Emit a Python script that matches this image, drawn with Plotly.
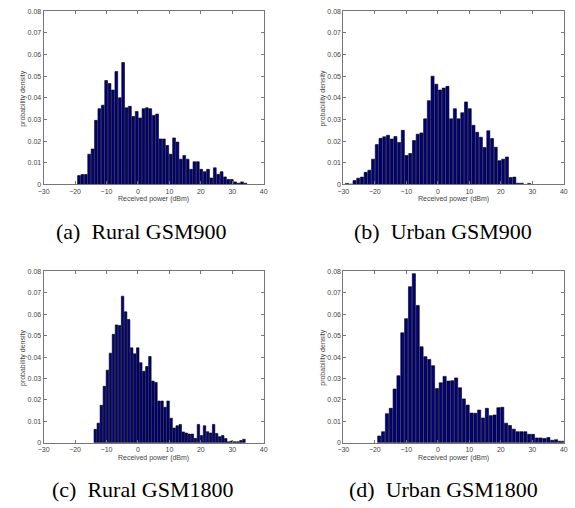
import plotly.graph_objects as go
import numpy as np

# ---- data (probability density per histogram bin) ----
# (a) Rural GSM900
a_start, a_width = -19.3, 1.08
a_vals = [0.0041, 0.0046, 0.0046, 0.0140, 0.0164, 0.0296, 0.0350, 0.0366, 0.0480, 0.0466,
          0.0436, 0.0522, 0.0400, 0.0563, 0.0354, 0.0361, 0.0314, 0.0337, 0.0307, 0.0350,
          0.0354, 0.0350, 0.0319, 0.0325, 0.0210, 0.0210, 0.0180, 0.0140, 0.0215, 0.0196,
          0.0117, 0.0134, 0.0117, 0.0070, 0.0105, 0.0105, 0.0070, 0.0059, 0.0070, 0.0030,
          0.0077, 0.0047, 0.0059, 0.0035, 0.0023, 0.0023, 0.0012, 0.0006, 0.0012, 0.0006]
# (b) Urban GSM900
b_start, b_width = -29.4, 1.18
b_vals = [0.0005, 0.0002, 0.0018, 0.0029, 0.0034, 0.0056, 0.0066, 0.0117, 0.0184, 0.0213,
          0.0220, 0.0227, 0.0210, 0.0221, 0.0194, 0.0250, 0.0134, 0.0143, 0.0203, 0.0232,
          0.0238, 0.0303, 0.0387, 0.0500, 0.0463, 0.0436, 0.0445, 0.0453, 0.0303, 0.0350,
          0.0303, 0.0331, 0.0381, 0.0350, 0.0273, 0.0241, 0.0218, 0.0171, 0.0248, 0.0212,
          0.0172, 0.0110, 0.0117, 0.0127, 0.0032, 0.0034, 0.0006, 0.0006, 0.0000, 0.0005]
# (c) Rural GSM1800
c_start, c_width = -14.06, 0.965
c_vals = [0.0063, 0.0092, 0.0175, 0.0264, 0.0339, 0.0418, 0.0506, 0.0550, 0.0547, 0.0684,
          0.0611, 0.0575, 0.0443, 0.0415, 0.0443, 0.0374, 0.0334, 0.0356, 0.0403, 0.0288,
          0.0282, 0.0195, 0.0195, 0.0166, 0.0195, 0.0115, 0.0069, 0.0080, 0.0086, 0.0051,
          0.0046, 0.0041, 0.0041, 0.0021, 0.0086, 0.0034, 0.0080, 0.0052, 0.0046, 0.0086,
          0.0044, 0.0029, 0.0034, 0.0020, 0.0005, 0.0009, 0.0005, 0.0005, 0.0011, 0.0017]
# (d) Urban GSM1800
d_start, d_width = -19.2, 1.22
d_vals = [0.0032, 0.0052, 0.0136, 0.0161, 0.0251, 0.0313, 0.0513, 0.0579, 0.0728, 0.0789,
          0.0641, 0.0448, 0.0402, 0.0389, 0.0360, 0.0253, 0.0280, 0.0310, 0.0288, 0.0290,
          0.0303, 0.0257, 0.0205, 0.0176, 0.0139, 0.0138, 0.0153, 0.0116, 0.0161, 0.0127,
          0.0130, 0.0164, 0.0166, 0.0092, 0.0081, 0.0064, 0.0052, 0.0052, 0.0052, 0.0040,
          0.0040, 0.0023, 0.0023, 0.0020, 0.0025, 0.0012, 0.0015, 0.0008, 0.0008]

captions = ["(a)  Rural GSM900", "(b)  Urban GSM900", "(c)  Rural GSM1800", "(d)  Urban GSM1800"]
x_ticks = [-30, -20, -10, 0, 10, 20, 30, 40]
y_ticks = [0, 0.01, 0.02, 0.03, 0.04, 0.05, 0.06, 0.07, 0.08]
x_title = "Received power (dBm)"
y_title = "probability density"

W, H = 575, 508
panels = [
    (a_start, a_width, a_vals, (38.3, 262.3), (7.3, 183.0)),
    (b_start, b_width, b_vals, (343.3, 567.7), (7.3, 183.0)),
    (c_start, c_width, c_vals, (38.3, 262.3), (271.0, 445.0)),
    (d_start, d_width, d_vals, (343.3, 567.7), (271.0, 445.0)),
]
caption_pos = [(137, 231), (445, 231), (139, 492), (445, 492)]

fig = go.Figure()
tick_font = dict(family="Liberation Sans, Arial", size=7, color="#444")
layout = dict(width=W, height=H, margin=dict(l=0, r=0, t=0, b=0),
              paper_bgcolor="white", plot_bgcolor="white", showlegend=False,
              bargap=0.18)
annotations = []
for i, (st, wd, vals, (x0, x1), (y0, y1)) in enumerate(panels):
    n = len(vals)
    centers = st + wd * (np.arange(n) + 0.5)
    sfx = "" if i == 0 else str(i + 1)
    fig.add_trace(go.Bar(x=centers, y=vals, width=wd * 0.82,
                         marker=dict(color="#000080", line=dict(color="#000000", width=0.6)),
                         xaxis="x" + sfx, yaxis="y" + sfx))
    common = dict(showgrid=False, zeroline=False, showline=True, linecolor="#777",
                  linewidth=1, mirror="ticks", ticks="inside", ticklen=3,
                  tickcolor="#777", tickfont=tick_font)
    layout["xaxis" + sfx] = dict(domain=[x0 / W, x1 / W], range=[-30, 40],
                                 tickvals=x_ticks, anchor="y" + sfx, **common)
    layout["yaxis" + sfx] = dict(domain=[1 - y1 / H, 1 - y0 / H], range=[0, 0.08],
                                 tickvals=y_ticks, anchor="x" + sfx, **common)
    # axis titles
    annotations.append(dict(text=x_title, x=(x0 + x1) / 2 / W, y=1 - (y1 + 15) / H,
                            xref="paper", yref="paper", showarrow=False,
                            font=dict(family="Liberation Sans, Arial", size=7, color="#444"),
                            xanchor="center", yanchor="middle"))
    annotations.append(dict(text=y_title, x=(x0 - 21) / W, y=1 - (y0 + y1) / 2 / H,
                            xref="paper", yref="paper", showarrow=False, textangle=-90,
                            font=dict(family="Liberation Sans, Arial", size=7, color="#444"),
                            xanchor="center", yanchor="middle"))
    cx, cy = caption_pos[i]
    annotations.append(dict(text=captions[i], x=cx / W, y=1 - cy / H,
                            xref="paper", yref="paper", showarrow=False,
                            font=dict(family="Liberation Serif, serif", size=22, color="#000"),
                            xanchor="center", yanchor="middle"))
layout["annotations"] = annotations
fig.update_layout(**layout)
fig.write_html("out.html")
